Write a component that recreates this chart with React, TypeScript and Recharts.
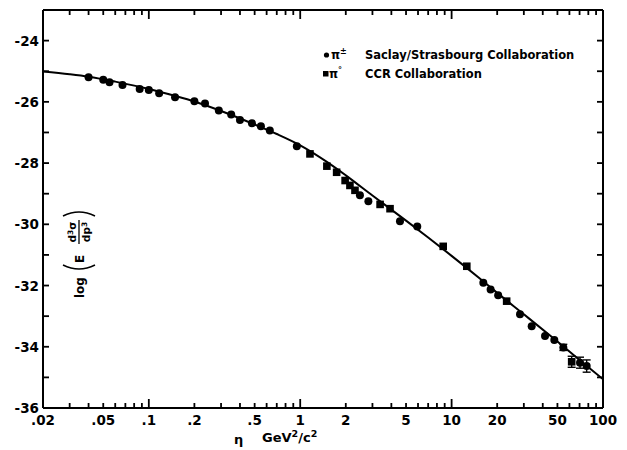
import React from 'react';
import { ComposedChart, XAxis, YAxis, Line, Scatter, ErrorBar, ReferenceLine } from 'recharts';

// π± Saclay/Strasbourg Collaboration (circles)
const saclayEta = [0.04, 0.05, 0.055, 0.067, 0.087, 0.1, 0.117, 0.149, 0.2, 0.235, 0.29, 0.35, 0.4, 0.48, 0.55, 0.63, 0.95, 2.48, 2.82, 4.56, 5.93, 16.2, 18.1, 20.3, 28.3, 33.8, 41.4, 47.7, 54.7, 70.5, 78];
const saclayLogE = [-25.2, -25.28, -25.36, -25.45, -25.58, -25.61, -25.72, -25.85, -25.98, -26.05, -26.28, -26.41, -26.59, -26.7, -26.8, -26.94, -27.45, -29.05, -29.25, -29.9, -30.07, -31.91, -32.13, -32.32, -32.94, -33.33, -33.65, -33.78, -34.02, -34.52, -34.63];
// π° CCR Collaboration (squares)
const ccrEta = [1.16, 1.5, 1.74, 1.98, 2.13, 2.3, 3.37, 3.92, 8.8, 12.6, 23.1, 62.1];
const ccrLogE = [-27.7, -28.1, -28.3, -28.57, -28.73, -28.89, -29.35, -29.49, -30.72, -31.37, -32.51, -34.49];
// error bars
const errEta = [54.7, 62.1, 70.5, 78];
const errLogE = [-34.02, -34.49, -34.52, -34.63];
const errSize = [0.1, 0.18, 0.18, 0.2];
// fitted curve
const fitEta = [0.02, 0.03, 0.04, 0.06, 0.1, 0.15, 0.2, 0.3, 0.5, 0.7, 1, 1.5, 2, 3, 5, 7, 10, 15, 20, 30, 50, 70, 100];
const fitLogE = [-25.01, -25.1, -25.18, -25.34, -25.58, -25.81, -25.99, -26.3, -26.74, -27.05, -27.42, -27.96, -28.4, -29.06, -29.88, -30.43, -31.03, -31.73, -32.24, -32.94, -33.83, -34.43, -35.06];
// ticks
const xMajor = [0.02, 0.05, 0.1, 0.2, 0.5, 1, 2, 5, 10, 20, 50, 100];
const xMajorLabels = ['.02', '.05', '.1', '.2', '.5', '1', '2', '5', '10', '20', '50', '100'];
const xMinor = [0.03, 0.04, 0.06, 0.07, 0.08, 0.09, 0.3, 0.4, 0.6, 0.7, 0.8, 0.9, 3, 4, 6, 7, 8, 9, 30, 40, 60, 70, 80, 90];
const xLong = [0.1, 1, 10];
const yTicks = [-36, -35, -34, -33, -32, -31, -30, -29, -28, -27, -26, -25, -24];
const xDomain = [0.02, 100];
const yDomain = [-36, -23];

const FONT = '"DejaVu Sans", sans-serif';

const saclayData = saclayEta.map((e, i) => ({ eta: e, v: saclayLogE[i] }));
const ccrData = ccrEta.map((e, i) => ({ eta: e, v: ccrLogE[i] }));
const errData = errEta.map((e, i) => ({ eta: e, v: errLogE[i], err: errSize[i] }));
const fitData = fitEta.map((e, i) => ({ eta: e, v: fitLogE[i] }));
const xTicksAll = [...xMajor, ...xMinor].sort((a, b) => a - b);

const TICK_W = 1.8;

const XTickBottom = (props: any) => {
  const { x, y, payload } = props;
  const v = payload.value;
  const idx = xMajor.indexOf(v);
  const len = xLong.includes(v) ? 9 : 5;
  return (
    <g>
      <path d={`M${x},${y}L${x},${y - len}`} stroke="#000" strokeWidth={TICK_W} />
      {idx >= 0 && (
        <text x={x} y={y + 17} textAnchor="middle" fontFamily={FONT} fontWeight="bold" fontSize={13.5} fill="#000">
          {xMajorLabels[idx]}
        </text>
      )}
    </g>
  );
};

const XTickTop = (props: any) => {
  const { x, y, payload } = props;
  const v = payload.value;
  const len = xLong.includes(v) ? 9 : 5;
  return <path d={`M${x},${y}L${x},${y + len}`} stroke="#000" strokeWidth={TICK_W} />;
};

const YTickLeft = (props: any) => {
  const { x, y, payload } = props;
  const v = payload.value;
  return (
    <g>
      <path d={`M${x},${y}L${x + 6},${y}`} stroke="#000" strokeWidth={TICK_W} />
      {v % 2 === 0 && (
        <text x={x - 4} y={y + 5} textAnchor="end" fontFamily={FONT} fontWeight="bold" fontSize={13.5} fill="#000">
          {String(v)}
        </text>
      )}
    </g>
  );
};

const YTickRight = (props: any) => {
  const { x, y } = props;
  return <path d={`M${x},${y}L${x - 6},${y}`} stroke="#000" strokeWidth={TICK_W} />;
};

const YLabel = () => (
  <g transform="translate(79,255) rotate(-90)" fontFamily={FONT} fontWeight="bold" fill="#000">
    <text x={-43} y={4.5} fontSize={12}>log</text>
    <path d="M -10 -16 Q -18 0 -10 16" fill="none" stroke="#000" strokeWidth={1.5} />
    <text x={-8} y={5} fontSize={12}>E</text>
    <line x1={11} x2={35} y1={0} y2={0} stroke="#000" strokeWidth={1.3} />
    <text x={23} y={-3} fontSize={10.5} textAnchor="middle">d<tspan dy={-3} fontSize={7.5}>3</tspan><tspan dy={3}>σ</tspan></text>
    <text x={23} y={11} fontSize={10.5} textAnchor="middle">dp<tspan dy={-3} fontSize={7.5}>3</tspan></text>
    <path d="M 39 -16 Q 47 0 39 16" fill="none" stroke="#000" strokeWidth={1.5} />
  </g>
);

const XLabel = () => (
  <g fontFamily={FONT} fontWeight="bold" fill="#000">
    <text x={234} y={444} fontSize={13}>η</text>
    <text x={262} y={442} fontSize={13}>GeV<tspan dy={-5} fontSize={9.5}>2</tspan><tspan dy={5}>/c</tspan><tspan dy={-5} fontSize={9.5}>2</tspan></text>
  </g>
);

const LegendBox = () => (
  <g fontFamily={FONT} fontWeight="bold" fill="#000" fontSize={11.5} style={{ whiteSpace: 'pre' }}>
    <circle cx={326.5} cy={55} r={2.6} />
    <text x={331} y={59}>π<tspan dy={-5} fontSize={8}>±</tspan></text>
    <text x={365} y={59}>Saclay/Strasbourg  Collaboration</text>
    <rect x={323} y={71} width={5.5} height={5.5} />
    <text x={329} y={78}>π<tspan dy={-5} fontSize={8}>°</tspan></text>
    <text x={365} y={78}>CCR  Collaboration</text>
  </g>
);

const Dot = (props: any) => <circle cx={props.cx} cy={props.cy} r={4} fill="#000" />;
const Sq = (props: any) => <rect x={props.cx - 3.8} y={props.cy - 3.8} width={7.6} height={7.6} fill="#000" />;
const NoMark = () => <g />;

export default function App() {
  return (
    <div style={{ position: 'absolute', left: 0, top: 0, background: '#fff' }}>
      <ComposedChart width={627} height={450} margin={{ top: 9, right: 23, bottom: 0, left: 0 }}>
        <XAxis
          xAxisId="b"
          dataKey="eta"
          type="number"
          scale="log"
          domain={xDomain}
          allowDataOverflow
          ticks={xTicksAll}
          interval={0}
          tick={XTickBottom}
          tickLine={false}
          tickSize={0}
          tickMargin={0}
          height={42}
          axisLine={{ stroke: '#000', strokeWidth: 2 }}
          label={() => <XLabel />}
        />
        <XAxis
          xAxisId="t"
          orientation="top"
          dataKey="eta"
          type="number"
          scale="log"
          domain={xDomain}
          allowDataOverflow
          ticks={xTicksAll}
          interval={0}
          tick={XTickTop}
          tickLine={false}
          tickSize={0}
          tickMargin={0}
          height={1}
          axisLine={{ stroke: '#000', strokeWidth: 2 }}
        />
        <YAxis
          yAxisId="l"
          dataKey="v"
          type="number"
          domain={yDomain}
          allowDataOverflow
          ticks={yTicks}
          interval={0}
          tick={YTickLeft}
          tickLine={false}
          tickSize={0}
          tickMargin={0}
          width={43}
          axisLine={{ stroke: '#000', strokeWidth: 2 }}
          label={() => <YLabel />}
        />
        <YAxis
          yAxisId="r"
          orientation="right"
          dataKey="v"
          type="number"
          domain={yDomain}
          allowDataOverflow
          ticks={yTicks}
          interval={0}
          tick={YTickRight}
          tickLine={false}
          tickSize={0}
          tickMargin={0}
          width={1}
          axisLine={{ stroke: '#000', strokeWidth: 2 }}
          label={() => <LegendBox />}
        />
        <ReferenceLine xAxisId="b" yAxisId="l" y={yDomain[1]} stroke="#000" strokeWidth={2} />
        <ReferenceLine xAxisId="b" yAxisId="l" x={xDomain[1]} stroke="#000" strokeWidth={2} />
        <Line
          xAxisId="b"
          yAxisId="l"
          data={fitData}
          dataKey="v"
          type="monotone"
          stroke="#000"
          strokeWidth={2}
          dot={false}
          activeDot={false}
          isAnimationActive={false}
        />
        <Scatter xAxisId="b" yAxisId="l" data={errData} dataKey="v" shape={NoMark} isAnimationActive={false}>
          <ErrorBar dataKey="err" direction="y" width={4} stroke="#000" strokeWidth={1.4} />
        </Scatter>
        <Scatter xAxisId="b" yAxisId="l" data={saclayData} dataKey="v" shape={Dot} isAnimationActive={false} />
        <Scatter xAxisId="b" yAxisId="l" data={ccrData} dataKey="v" shape={Sq} isAnimationActive={false} />
      </ComposedChart>
    </div>
  );
}
